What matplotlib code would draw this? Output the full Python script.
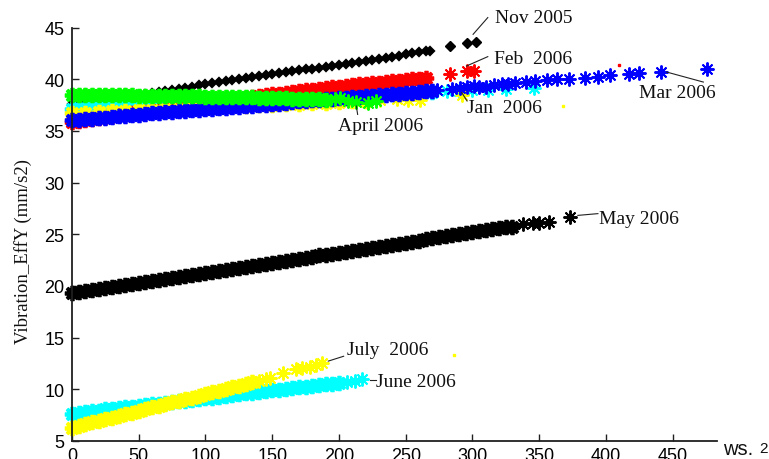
import matplotlib
matplotlib.use("Agg")
import matplotlib.pyplot as plt

# ---------------- data ----------------
nov_x = [0, 5, 10, 15, 20, 25, 30, 35, 40, 45, 50, 55, 60, 65, 70, 75, 80, 85, 90, 95,
         100, 105, 110, 115, 120, 125, 130, 135, 140, 145, 150, 155, 160, 165, 170, 175,
         180, 185, 190, 195, 200, 205, 210, 215, 220, 225, 230, 235, 240, 245, 250, 255,
         260, 265, 268, 283, 296, 303]
nov_y = [37.6, 37.7, 37.8, 37.9, 38.0, 38.1, 38.2, 38.2, 38.3, 38.4, 38.5, 38.6, 38.7, 38.8,
         38.9, 39.0, 39.1, 39.2, 39.3, 39.4, 39.5, 39.6, 39.7, 39.8, 39.9, 40.0, 40.1, 40.2,
         40.3, 40.4, 40.5, 40.6, 40.7, 40.8, 40.9, 41.0, 41.0, 41.1, 41.2, 41.3, 41.4, 41.5,
         41.6, 41.7, 41.8, 41.9, 42.0, 42.1, 42.2, 42.3, 42.4, 42.5, 42.6, 42.7, 42.75,
         43.2, 43.5, 43.6]

jan_x = [0, 5, 10, 15, 20, 25, 30, 35, 40, 45, 50, 55, 60, 65, 70, 75, 80, 85, 90, 95, 100,
         110, 120, 130, 140, 150, 160, 170, 180, 190, 200, 210, 220, 230, 240, 250, 260, 270,
         281, 290, 300, 312, 325, 346]
jan_y = [37.15, 37.2, 37.2, 37.25, 37.3, 37.3, 37.35, 37.35, 37.4, 37.4, 37.45, 37.5, 37.5,
         37.55, 37.6, 37.6, 37.65, 37.65, 37.7, 37.75, 37.75, 37.8, 37.9, 37.9, 38.0, 38.05,
         38.1, 38.2, 38.2, 38.3, 38.35, 38.4, 38.5, 38.5, 38.6, 38.65, 38.7, 38.75,
         38.85, 38.9, 38.95, 39.0, 39.1, 39.2]

feb_x = [0, 5, 10, 15, 20, 25, 30, 35, 40, 45, 50, 55, 60, 65, 70, 75, 80, 85, 90, 95,
         100, 105, 110, 115, 120, 125, 130, 135, 140, 145, 150, 155, 160, 165, 170, 175,
         180, 185, 190, 195, 200, 205, 210, 215, 220, 225, 230, 235, 240, 245, 250, 255,
         260, 265, 283.5, 296, 301]
feb_y = [35.9, 36.0, 36.1, 36.15, 36.25, 36.35, 36.45, 36.5, 36.6, 36.7, 36.8, 36.85, 36.95,
         37.05, 37.15, 37.2, 37.3, 37.4, 37.5, 37.55, 37.65, 37.75, 37.85, 37.9, 38.0, 38.1,
         38.2, 38.25, 38.35, 38.45, 38.55, 38.6, 38.7, 38.8, 38.85, 38.95, 39.0, 39.1, 39.15,
         39.25, 39.3, 39.35, 39.4, 39.5, 39.55, 39.6, 39.65, 39.75, 39.8, 39.85, 39.9, 40.0,
         40.05, 40.1, 40.5, 40.8, 40.8]

upper_yellow_x = [0, 10, 20, 30, 40, 50, 60, 70, 80, 90, 100, 110, 120, 130, 140, 150, 160,
                  170, 180, 190, 200, 210, 220, 231, 243.5, 252, 261, 292]
upper_yellow_y = [36.7, 36.75, 36.85, 36.9, 36.95, 37.0, 37.05, 37.1, 37.15, 37.2, 37.25,
                  37.3, 37.4, 37.45, 37.5, 37.55, 37.6, 37.65, 37.7, 37.75, 37.8, 37.85, 37.9,
                  37.96, 38.06, 38.0, 38.0, 38.47]

mar_x = [0, 5, 10, 15, 20, 25, 30, 35, 40, 45, 50, 55, 60, 65, 70, 75, 80, 85, 90, 95,
         100, 105, 110, 115, 120, 125, 130, 135, 140, 145, 150, 155, 160, 165, 170, 175,
         180, 185, 190, 195, 200, 205, 210, 215, 220, 225, 230, 235, 240, 245, 250, 255,
         260, 265, 270, 273.5, 285, 291, 296, 301.5, 305, 310.5, 316, 322, 327, 332, 340,
         347, 356, 363.5, 372, 384, 394, 403, 417, 425, 441.5, 475.6]
mar_y = [36.05, 36.1, 36.15, 36.2, 36.25, 36.3, 36.35, 36.4, 36.45, 36.5, 36.55, 36.6, 36.7,
         36.75, 36.8, 36.85, 36.9, 36.95, 37.0, 37.05, 37.1, 37.15, 37.2, 37.25, 37.3, 37.35,
         37.4, 37.45, 37.5, 37.55, 37.6, 37.65, 37.7, 37.8, 37.85, 37.9, 37.95, 38.0, 38.05,
         38.1, 38.15, 38.2, 38.25, 38.3, 38.35, 38.4, 38.45, 38.5, 38.55, 38.6, 38.65, 38.7,
         38.8, 38.85, 38.9, 38.96, 39.1, 39.19, 39.25, 39.35, 39.3, 39.29, 39.4, 39.51, 39.5,
         39.6, 39.7, 39.83, 39.93, 40.0, 40.06, 40.16, 40.22, 40.38, 40.48, 40.58, 40.7, 41.03]

apr_x = [0, 5, 10, 15, 20, 25, 30, 35, 40, 45, 50, 55, 60, 65, 70, 75, 80, 85, 90, 95,
         100, 105, 110, 115, 120, 125, 130, 135, 140, 145, 150, 155, 160, 165, 170, 175,
         180, 185, 190, 197, 201, 207, 213, 222, 228]
apr_y = [38.5, 38.5, 38.5, 38.5, 38.5, 38.45, 38.45, 38.45, 38.45, 38.45, 38.4, 38.4, 38.4,
         38.4, 38.4, 38.35, 38.35, 38.35, 38.35, 38.35, 38.3, 38.3, 38.3, 38.3, 38.3, 38.3,
         38.25, 38.25, 38.2, 38.2, 38.2, 38.15, 38.15, 38.1, 38.1, 38.1, 38.05, 38.05, 38.0,
         38.1, 38.2, 37.9, 37.8, 37.74, 37.9]

may_x = [0, 5, 10, 15, 20, 25, 30, 35, 40, 45, 50, 55, 60, 65, 70, 75, 80, 85, 90, 95,
         100, 105, 110, 115, 120, 125, 130, 135, 140, 145, 150, 155, 160, 165, 170, 175,
         180, 185, 190, 195, 200, 205, 210, 215, 220, 225, 230, 235, 240, 245, 250, 255,
         260, 265, 270, 275, 280, 285, 290, 295, 300, 305, 310, 315, 320, 325, 330,
         338, 345, 350, 357, 373]
may_y = [19.3, 19.4, 19.5, 19.6, 19.7, 19.8, 19.9, 20.0, 20.1, 20.2, 20.3, 20.4, 20.5, 20.55,
         20.65, 20.75, 20.85, 20.95, 21.05, 21.15, 21.25, 21.35, 21.45, 21.55, 21.65, 21.75,
         21.85, 21.95, 22.05, 22.15, 22.25, 22.35, 22.45, 22.55, 22.65, 22.75, 22.85, 22.95,
         23.0, 23.1, 23.2, 23.3, 23.4, 23.5, 23.6, 23.7, 23.8, 23.9, 24.0, 24.1, 24.2, 24.3,
         24.4, 24.5, 24.6, 24.7, 24.8, 24.9, 25.0, 25.1, 25.2, 25.3, 25.4, 25.5, 25.6, 25.7,
         25.75, 25.95, 26.05, 26.1, 26.15, 26.7]

jun_x = [0, 5, 10, 15, 20, 25, 30, 35, 40, 45, 50, 55, 60, 65, 70, 75, 80, 85, 90, 95,
         100, 105, 110, 115, 120, 125, 130, 135, 140, 145, 150, 155, 160, 165, 170, 175,
         180, 185, 190, 195, 200, 206, 212, 217]
jun_y = [7.65, 7.75, 7.8, 7.9, 7.95, 8.05, 8.1, 8.2, 8.25, 8.3, 8.4, 8.45, 8.55, 8.6, 8.7,
         8.75, 8.85, 8.9, 9.0, 9.05, 9.15, 9.2, 9.3, 9.35, 9.45, 9.5, 9.6, 9.65, 9.75, 9.8,
         9.9, 9.95, 10.05, 10.1, 10.2, 10.25, 10.35, 10.4, 10.5, 10.55, 10.6, 10.7, 10.8, 11.0]

jul_x = [0, 5, 10, 15, 20, 25, 30, 35, 40, 45, 50, 55, 60, 65, 70, 75, 80, 85, 90, 95,
         100, 105, 110, 115, 120, 125, 130, 135, 140, 145, 148, 158, 168, 172, 178, 183, 187]
jul_y = [6.3, 6.45, 6.6, 6.8, 6.95, 7.1, 7.25, 7.45, 7.6, 7.75, 7.9, 8.1, 8.25, 8.4, 8.55,
         8.75, 8.9, 9.05, 9.2, 9.4, 9.55, 9.7, 9.85, 10.05, 10.2, 10.35, 10.5, 10.7, 10.85,
         11.0, 11.1, 11.6, 12.0, 12.1, 12.2, 12.4, 12.57]

# isolated single-pixel dots
dot_x = [410, 368, 286]
dot_y = [41.35, 37.4, 13.3]
dot_colors = ["red", "yellow", "yellow"]

# annotation labels: text, text anchor (x, y), leader start, leader end
labels = ["Nov 2005", "Feb  2006", "Jan  2006", "Mar 2006", "April 2006",
          "May 2006", "July  2006", "June 2006"]
label_xy = [(317, 46.0), (316, 42.0), (296, 37.3), (424.7, 38.7), (199, 35.55),
            (394.5, 26.5), (206, 13.85), (228, 10.75)]
lead_from = [(300.5, 44.35), (295.5, 41.28), (292, 38.71), (445.5, 40.7), (213, 37.41),
             (379, 26.83), (192, 12.73), (223.5, 10.95)]
lead_to = [(311.5, 45.97), (311.5, 42.19), (296, 37.9), (473, 39.73), (214, 36.6),
           (394, 27.0), (203.5, 13.2), (228, 10.95)]

x_ticks = [0, 50, 100, 150, 200, 250, 300, 350, 400, 450]
y_ticks = [5, 10, 15, 20, 25, 30, 35, 40, 45]

# ---------------- drawing ----------------
SERIF = "Liberation Serif"
SANS = "Liberation Sans"
ASTER = (8, 2, 0)

fig = plt.figure(figsize=(7.69, 4.60), dpi=100)
ax = fig.add_axes([72 / 769, 18 / 460, (716.7 - 72) / 769, (441.7 - 28.3) / 460])
ax.set_xlim(0, 483)
ax.set_ylim(5, 45)


def stars(xs, ys, color, n_dense):
    # heavily overplotted (dense) stretch drawn with bolder strokes, sparse tail thin
    ax.plot(xs[:n_dense], ys[:n_dense], linestyle="none", marker=ASTER, markersize=11,
            markeredgewidth=2.7, color=color, clip_on=False)
    ax.plot(xs[n_dense:], ys[n_dense:], linestyle="none", marker=ASTER, markersize=10,
            markeredgewidth=1.4, color=color, clip_on=False)


ax.plot(nov_x[:55], nov_y[:55], linestyle="none", marker="D", markersize=4.0,
        markeredgewidth=1.6, color="black", clip_on=False)
ax.plot(nov_x[55:], nov_y[55:], linestyle="none", marker="D", markersize=5.3,
        color="black", clip_on=False)
stars(jan_x, jan_y, "cyan", 38)
stars(feb_x, feb_y, "red", 54)
stars(upper_yellow_x, upper_yellow_y, "yellow", 23)
stars(mar_x, mar_y, "blue", 55)
stars(apr_x, apr_y, "lime", 39)
stars(may_x, may_y, "black", 67)
stars(jun_x, jun_y, "cyan", 41)
stars(jul_x, jul_y, "yellow", 28)
for dx, dy, dc in zip(dot_x, dot_y, dot_colors):
    ax.plot([dx], [dy], linestyle="none", marker="s", markersize=1.5, color=dc)

for t, (tx, ty), p0, p1 in zip(labels, label_xy, lead_from, lead_to):
    ax.plot([p0[0], p1[0]], [p0[1], p1[1]], color="#222222", lw=0.8, clip_on=False)
    ax.text(tx, ty, t, ha="left", va="center", family=SERIF, fontsize=14,
            color="#111111", clip_on=False)

for s in ("top", "right"):
    ax.spines[s].set_visible(False)
for s in ("left", "bottom"):
    ax.spines[s].set_linewidth(1.3)
    ax.spines[s].set_color("#202020")

ax.set_xticks(x_ticks)
ax.set_yticks(y_ticks)
ax.set_xticklabels([str(v) for v in x_ticks], family=SANS, fontsize=13)
ax.set_yticklabels([str(v) for v in y_ticks], family=SANS, fontsize=13)
ax.tick_params(axis="both", direction="in", length=4.7, width=1.0, color="#202020")
ax.tick_params(axis="y", pad=5.5)
ax.tick_params(axis="x", pad=4.3)

fig.text(23 / 769, 1 - 251.5 / 460, "Vibration_EffY (mm/s2)", rotation=90, ha="center",
         va="center", family=SERIF, fontsize=13.5, color="#111111")
fig.text(723 / 769, 5 / 460, "ws.", ha="left", va="baseline", family=SANS, fontsize=14.5,
         color="#111111")
fig.text(759 / 769, 7 / 460, "2", ha="left", va="baseline", family=SANS, fontsize=11,
         color="#111111")

fig.savefig("out.png", dpi=100)
